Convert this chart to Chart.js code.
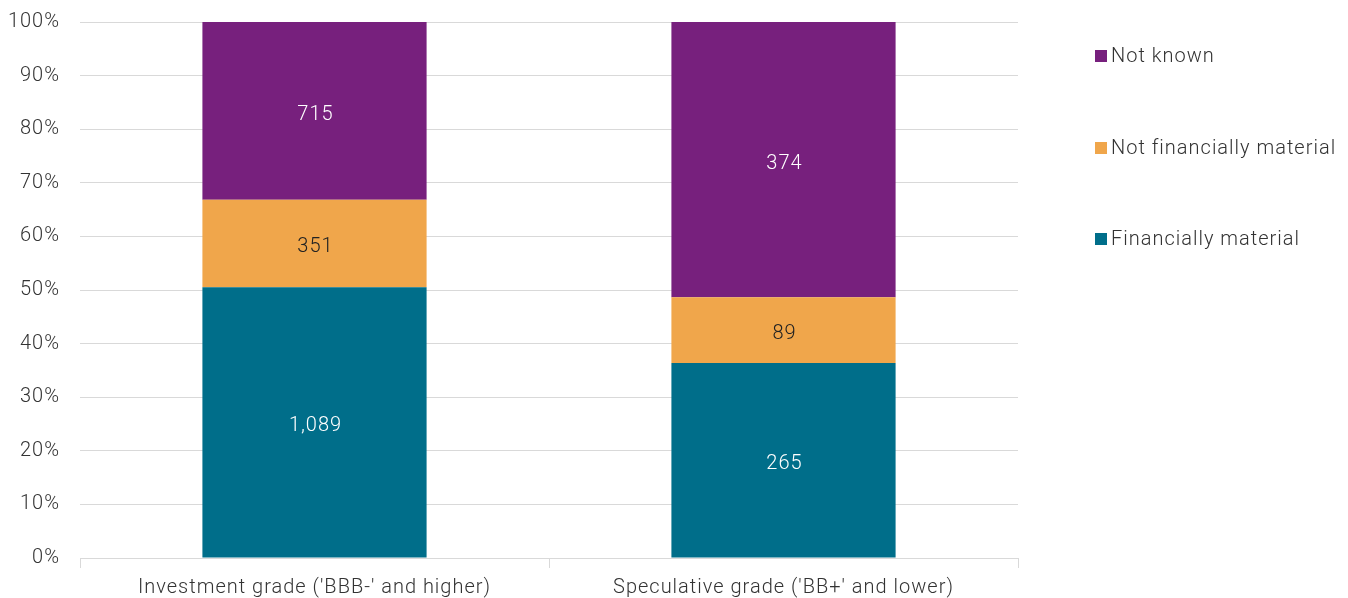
<!DOCTYPE html>
<html>
<head>
<meta charset="utf-8">
<script src="https://cdn.jsdelivr.net/npm/chart.js@4"></script>
<style>
html,body{margin:0;padding:0;background:#fff;}
#wrap{width:1348px;height:598px;position:relative;}
</style>
</head>
<body>
<div id="wrap"><canvas id="c" width="1348" height="598"></canvas></div>
<script>
const categories = ["Investment grade ('BBB-' and higher)", "Speculative grade ('BB+' and lower)"];
const financiallyMaterial = [1089, 265];
const notFinanciallyMaterial = [351, 89];
const notKnown = [715, 374];
const yTicks = [0, 10, 20, 30, 40, 50, 60, 70, 80, 90, 100];

const seriesNames = ["Financially material", "Not financially material", "Not known"];
const seriesColors = ["#006E8A", "#F0A64B", "#77207D"];
const labelColors = ["#ffffff", "#222222", "#ffffff"];
const counts = [financiallyMaterial, notFinanciallyMaterial, notKnown];
const totals = categories.map((_, i) => counts.reduce((s, arr) => s + arr[i], 0));

const FONT = "Roboto, 'Liberation Sans', sans-serif";
const FW = 300;
const FS = 20;

const datasets = counts.map((arr, k) => ({
  label: seriesNames[k],
  data: arr.map((v, i) => v / totals[i] * 100),
  rawCounts: arr,
  backgroundColor: seriesColors[k],
  labelColor: labelColors[k],
  borderWidth: 0,
  barPercentage: 0.478,
  categoryPercentage: 1.0
}));

const spacing = {
  id: 'spacing',
  beforeInit(chart) { chart.ctx.letterSpacing = '1px'; },
  beforeUpdate(chart) { chart.ctx.letterSpacing = '1px'; },
  beforeLayout(chart) { chart.ctx.letterSpacing = '1px'; },
  beforeDraw(chart) { chart.ctx.letterSpacing = '1px'; }
};

const valueLabels = {
  id: 'valueLabels',
  afterDatasetsDraw(chart) {
    const ctx = chart.ctx;
    ctx.save();
    ctx.letterSpacing = '1px';
    ctx.font = FW + " " + FS + "px " + FONT;
    ctx.textAlign = 'center';
    ctx.textBaseline = 'middle';
    chart.data.datasets.forEach((ds, di) => {
      const meta = chart.getDatasetMeta(di);
      meta.data.forEach((bar, i) => {
        const p = bar.getProps(['x', 'y', 'base'], true);
        ctx.fillStyle = ds.labelColor;
        ctx.fillText(ds.rawCounts[i].toLocaleString('en-US'), p.x + 1, (p.y + p.base) / 2 + 4);
      });
    });
    ctx.restore();
  }
};

const sideLegend = {
  id: 'sideLegend',
  afterDraw(chart) {
    const ctx = chart.ctx;
    ctx.save();
    ctx.letterSpacing = '1px';
    ctx.font = FW + " " + FS + "px " + FONT;
    ctx.textBaseline = 'middle';
    ctx.textAlign = 'left';
    const order = [2, 1, 0];
    const ys = [56, 148, 239];
    order.forEach((di, j) => {
      const ds = chart.data.datasets[di];
      ctx.fillStyle = ds.backgroundColor;
      ctx.fillRect(1095, ys[j] - 6, 12, 12);
      ctx.fillStyle = '#333333';
      ctx.fillText(ds.label, 1111, ys[j] + 1);
    });
    ctx.restore();
  }
};

new Chart(document.getElementById('c'), {
  type: 'bar',
  data: { labels: categories, datasets },
  options: {
    responsive: false,
    animation: false,
    devicePixelRatio: 1,
    layout: { padding: { top: 22, right: 330, left: 0, bottom: 0 } },
    plugins: { legend: { display: false }, tooltip: { enabled: false } },
    scales: {
      x: {
        stacked: true,
        grid: { display: true, drawOnChartArea: false, drawTicks: true, tickLength: 10, color: '#d9d9d9', offset: true },
        border: { display: true, color: '#d9d9d9', width: 1 },
        ticks: { color: '#333333', font: { family: FONT, size: FS, weight: FW }, padding: 8, maxRotation: 0 },
        afterFit(scale) { scale.height = 40; scale.paddingLeft = 0; scale.paddingRight = 0; }
      },
      y: {
        stacked: true,
        min: 0, max: 100,
        afterBuildTicks(scale) { scale.ticks = yTicks.map(v => ({ value: v })); },
        grid: { color: '#d9d9d9', drawTicks: false, lineWidth: 1 },
        border: { display: false },
        ticks: { color: '#333333', font: { family: FONT, size: FS, weight: FW }, padding: 20, callback: v => v + '%' },
        afterFit(scale) { scale.width = 80; scale.paddingTop = 0; scale.paddingBottom = 0; }
      }
    }
  },
  plugins: [spacing, valueLabels, sideLegend]
});
</script>
</body>
</html>
